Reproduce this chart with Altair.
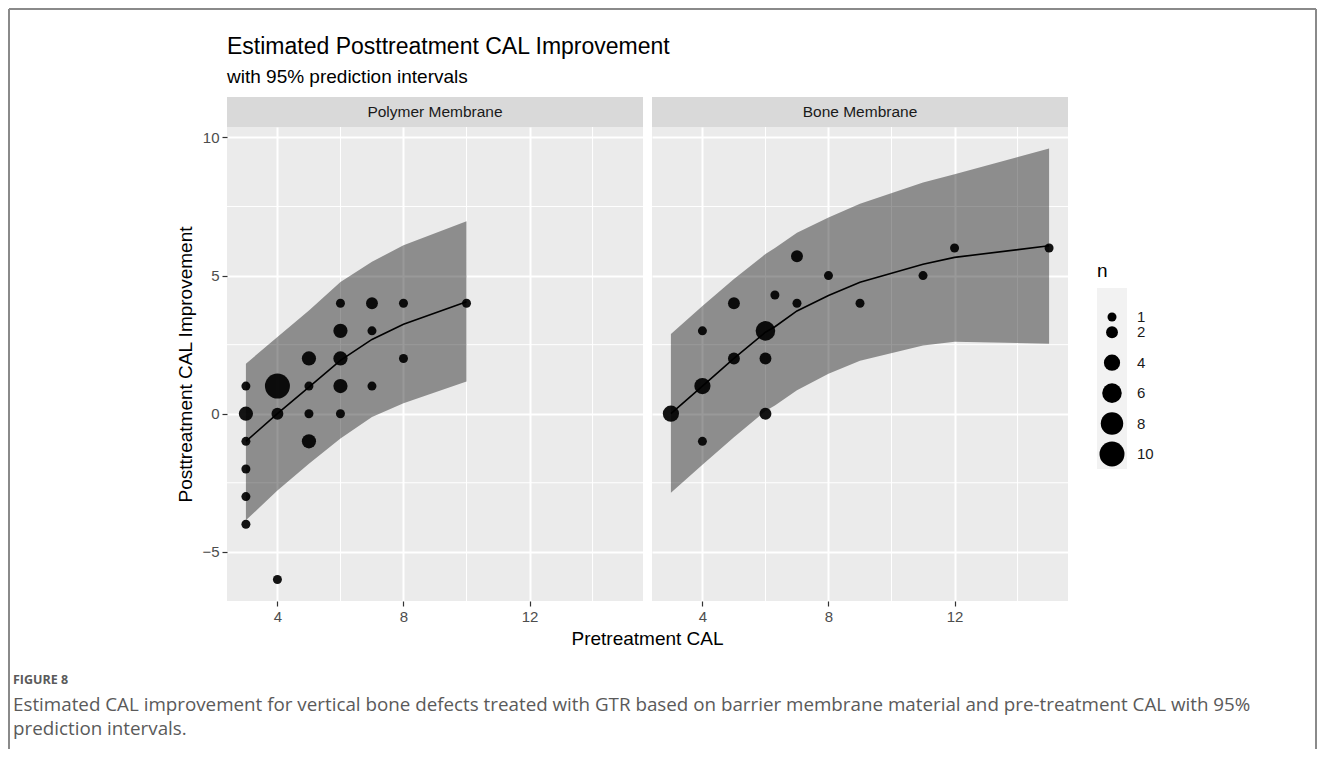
import altair as alt
import pandas as pd

# ---------------- data ----------------
panel_names = ["Polymer Membrane", "Bone Membrane"]

poly_x = [3, 3, 3, 3, 3, 3, 4, 4, 4, 5, 5, 5, 5, 6, 6, 6, 6, 6, 7, 7, 7, 8, 8, 10]
poly_y = [1, 0, -1, -2, -3, -4, 1, 0, -6, 2, 1, 0, -1, 4, 3, 2, 1, 0, 4, 3, 1, 4, 2, 4]
poly_n = [1, 3, 1, 1, 1, 1, 10, 2, 1, 3, 1, 1, 3, 1, 3, 3, 3, 1, 2, 1, 1, 1, 1, 1]

poly_fx = [3, 4, 5, 6, 7, 8, 10]
poly_fit = [-1.0, 0.0, 0.96, 1.93, 2.69, 3.24, 4.05]
poly_lo = [-3.86, -2.78, -1.81, -0.90, -0.12, 0.38, 1.17]
poly_hi = [1.81, 2.78, 3.74, 4.77, 5.50, 6.10, 6.97]

bone_x = [3, 4, 4, 4, 5, 5, 6, 6, 6, 6.3, 7, 7, 8, 9, 11, 12, 15]
bone_y = [0, 3, 1, -1, 4, 2, 3, 2, 0, 4.3, 5.7, 4, 5, 4, 5, 6, 6]
bone_n = [4, 1, 4, 1, 2, 2, 6, 2, 2, 1, 2, 1, 1, 1, 1, 1, 1]

bone_fx = [3, 4, 5, 6, 6.3, 7, 8, 9, 11, 12, 15]
bone_fit = [0.0, 1.0, 2.0, 2.95, 3.15, 3.72, 4.28, 4.76, 5.41, 5.66, 6.08]
bone_lo = [-2.86, -1.85, -0.85, 0.10, 0.30, 0.85, 1.45, 1.92, 2.47, 2.61, 2.53]
bone_hi = [2.89, 3.90, 4.88, 5.78, 6.00, 6.55, 7.10, 7.60, 8.37, 8.67, 9.60]

x_major = [4, 8, 12]
x_minor = [6, 10, 14]
y_major = [-5, 0, 5, 10]
y_minor = [-2.5, 2.5, 7.5]

legend_n = [1, 2, 4, 6, 8, 10]

title_text = "Estimated Posttreatment CAL Improvement"
subtitle_text = "with 95% prediction intervals"
x_title = "Pretreatment CAL"
y_title = "Posttreatment CAL Improvement"
fig_label = "FIGURE 8"
caption_1 = ("Estimated CAL improvement for vertical bone defects treated with GTR based on "
             "barrier membrane material and pre-treatment CAL with 95%")
caption_2 = "prediction intervals."

# ---------------- layout ----------------
PW, PH = 416, 474
X_DOMAIN = [2.4, 15.6]
Y_DOMAIN = [-6.78, 10.38]
FONT = "Liberation Sans"
CAP_FONT = "Open Sans"

size_scale = alt.Scale(domain=[1, 10], range=[81, 625], zero=False)
one = pd.DataFrame({"k": [0]})


def panel(idx, px, py, pn, fx, ff, flo, fhi, show_y, extra=None):
    pts = pd.DataFrame({"x": px, "y": py, "n": pn})
    fit = pd.DataFrame({"x": fx, "fit": ff, "lo": flo, "hi": fhi})
    xs = alt.Scale(domain=X_DOMAIN, nice=False, zero=False)
    ys = alt.Scale(domain=Y_DOMAIN, nice=False, zero=False)
    xaxis = alt.Axis(values=x_major, grid=True, gridColor="white", gridWidth=2,
                     labelFontSize=15, labelColor="#4d4d4d", tickColor="#333333",
                     tickSize=5, tickWidth=1.2, domain=False, labelPadding=3,
                     labelFont=FONT)
    if show_y:
        yaxis = alt.Axis(values=y_major, grid=True, gridColor="white", gridWidth=2,
                         labelFontSize=15, labelColor="#4d4d4d", tickColor="#333333",
                         tickSize=5, tickWidth=1.2, domain=False, labelPadding=3,
                         labelFont=FONT, title=y_title, titleFontSize=19,
                         titleFontWeight="normal", titleColor="black",
                         titleFont=FONT, titlePadding=6)
    else:
        yaxis = alt.Axis(values=y_major, grid=True, gridColor="white", gridWidth=2,
                         labels=False, ticks=False, domain=False, title=None)

    minor_x = alt.Chart(pd.DataFrame({"v": x_minor})).mark_rule(
        color="white", strokeWidth=1).encode(x=alt.X("v:Q", scale=xs, axis=xaxis, title=None))
    minor_y = alt.Chart(pd.DataFrame({"v": y_minor})).mark_rule(
        color="white", strokeWidth=1).encode(y=alt.Y("v:Q", scale=ys, axis=yaxis))

    band = alt.Chart(fit).mark_area(color="black", opacity=0.4).encode(
        x=alt.X("x:Q", scale=xs), y=alt.Y("lo:Q", scale=ys), y2="hi:Q")
    line = alt.Chart(fit).mark_line(color="black", strokeWidth=1.6).encode(
        x=alt.X("x:Q", scale=xs), y=alt.Y("fit:Q", scale=ys))
    dots = alt.Chart(pts).mark_circle(color="black", opacity=0.92).encode(
        x=alt.X("x:Q", scale=xs), y=alt.Y("y:Q", scale=ys),
        size=alt.Size("n:Q", scale=size_scale, legend=None))

    strip_df = pd.DataFrame({"t": [panel_names[idx]]})
    strip = alt.Chart(strip_df).mark_rect(fill="#d9d9d9").encode(
        x=alt.value(0), x2=alt.value(PW), y=alt.value(-30), y2=alt.value(0))
    strip_txt = alt.Chart(strip_df).mark_text(
        fontSize=15.5, color="#1a1a1a", font=FONT, baseline="middle").encode(
        x=alt.value(PW / 2), y=alt.value(-15), text="t:N")

    layers = [minor_x, minor_y, band, line, dots, strip, strip_txt]
    if extra:
        layers += extra
    return alt.layer(*layers).properties(
        width=PW, height=PH, view=alt.ViewBackground(fill="#ebebeb", stroke=None))


def txt(s, x, y, size, color="black", font=FONT, align="left", weight="normal"):
    return alt.Chart(pd.DataFrame({"t": [s]})).mark_text(
        fontSize=size, color=color, font=font, align=align, baseline="alphabetic",
        fontWeight=weight).encode(x=alt.value(x), y=alt.value(y), text="t:N")


def vrule(x, y1, y2):
    return alt.Chart(one).mark_rule(color="#8a8a8a", strokeWidth=2).encode(
        x=alt.value(x), y=alt.value(y1), y2=alt.value(y2))


def hrule(x1, x2, y):
    return alt.Chart(one).mark_rule(color="#8a8a8a", strokeWidth=2).encode(
        x=alt.value(x1), x2=alt.value(x2), y=alt.value(y))


deco = [
    txt(title_text, 0, -73, 23),
    txt(subtitle_text, 0, -44, 19),
    txt(x_title, PW + 4.5, 518, 19, align="center"),
    txt(fig_label, -214, 557, 12.5, color="#5a5a5a", font=CAP_FONT, weight="bold"),
    txt(caption_1, -214, 584, 18.8, color="#5a5a5a", font=CAP_FONT),
    txt(caption_2, -214, 608, 18.8, color="#5a5a5a", font=CAP_FONT),
    vrule(-218, -118, 622),
    vrule(1089, -118, 622),
    hrule(-218, 1089, -118),
]

left = panel(0, poly_x, poly_y, poly_n, poly_fx, poly_fit, poly_lo, poly_hi, True, deco)
right = panel(1, bone_x, bone_y, bone_n, bone_fx, bone_fit, bone_lo, bone_hi, False)

# ---------------- legend ----------------
leg = pd.DataFrame({"n": legend_n, "lab": [str(v) for v in legend_n]})
ly = alt.Scale(domain=[1, 10], range=[190, 327], zero=False, nice=False)
leg_bg = alt.Chart(one).mark_rect(fill="#f2f2f2").encode(
    x=alt.value(20), x2=alt.value(50), y=alt.value(161), y2=alt.value(342))
leg_dots = alt.Chart(leg).mark_circle(color="black", opacity=1).encode(
    x=alt.value(35), y=alt.Y("n:Q", scale=ly, axis=None),
    size=alt.Size("n:Q", scale=size_scale, legend=None))
leg_lab = alt.Chart(leg).mark_text(align="left", baseline="middle", fontSize=15,
                                   font=FONT, color="#1a1a1a").encode(
    x=alt.value(60), y=alt.Y("n:Q", scale=ly, axis=None), text="lab:N")
leg_title = txt("n", 20, 150, 19)
legend = alt.layer(leg_bg, leg_dots, leg_lab, leg_title).properties(width=60, height=PH)

chart = alt.hconcat(left, right, legend, spacing=9, bounds="flush").resolve_scale(
    size="shared").properties(padding=0).configure(font=FONT).configure_view(stroke=None)

chart.save("out.html", embed_options={"renderer": "svg", "actions": False})
